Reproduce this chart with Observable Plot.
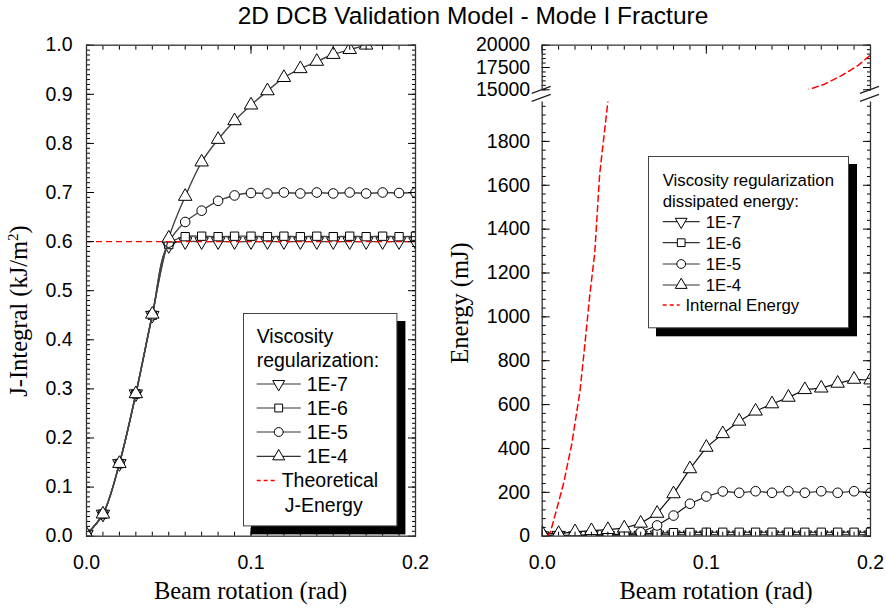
<!DOCTYPE html>
<html><head><meta charset="utf-8">
<script src="https://cdn.jsdelivr.net/npm/d3@7"></script>
<script src="https://cdn.jsdelivr.net/npm/@observablehq/plot@0.6"></script>
<style>
html,body{margin:0;padding:0;background:#fff;}
#root{position:relative;width:886px;height:612px;overflow:hidden;font-family:"Liberation Sans",Arial,sans-serif;}
#root svg{position:absolute;top:0;overflow:visible;}
</style></head>
<body><div id="root"></div>
<script>
// ---------------- data ----------------
const chartTitle = "2D DCB Validation Model - Mode I Fracture";
const xTitle = "Beam rotation (rad)";
const rotation = [0, 0.01, 0.02, 0.03, 0.04, 0.05, 0.06, 0.07, 0.08, 0.09, 0.10, 0.11, 0.12, 0.13, 0.14, 0.15, 0.16, 0.17, 0.18, 0.19, 0.20];
const viscosityLabels = ["1E-7", "1E-6", "1E-5", "1E-4"];

// Left panel: J-Integral (kJ/m^2)
const jIntegral1E7 = [0.004, 0.045, 0.148, 0.290, 0.450, 0.592, 0.600, 0.600, 0.600, 0.600, 0.600, 0.600, 0.600, 0.600, 0.600, 0.600, 0.600, 0.600, 0.600, 0.600, 0.600];
const jIntegral1E6 = [0.004, 0.045, 0.148, 0.290, 0.450, 0.594, 0.610, 0.611, 0.610, 0.611, 0.611, 0.610, 0.611, 0.610, 0.611, 0.610, 0.611, 0.610, 0.611, 0.610, 0.611];
const jIntegral1E5 = [0.004, 0.045, 0.148, 0.290, 0.450, 0.598, 0.640, 0.663, 0.683, 0.694, 0.699, 0.698, 0.700, 0.698, 0.700, 0.698, 0.700, 0.698, 0.700, 0.699, 0.700];
const jIntegral1E4 = [0.004, 0.045, 0.148, 0.290, 0.452, 0.607, 0.692, 0.762, 0.808, 0.846, 0.878, 0.907, 0.934, 0.952, 0.967, 0.981, 0.991, 1.000, 1.008];
const theoreticalJ = [0.6];
const jTickLabels = [0, 0.1, 0.2, 0.3, 0.4, 0.5, 0.6, 0.7, 0.8, 0.9, 1.0];
const xTickLabels = [0, 0.1, 0.2];

// Right panel: dissipated energy (mJ)
const energy1E7 = [2, 4, 2, 3, 3, 4, 5, 6, 6, 6, 6, 6, 6, 6, 6, 6, 6, 6, 6, 6, 6];
const energy1E6 = [4, 3, 4, 5, 6, 8, 11, 14, 16, 17, 18, 18, 18, 18, 18, 18, 18, 18, 18, 18, 18];
const energy1E5 = [6, 3, 4, 5, 7, 10, 18, 49, 94, 148, 181, 204, 198, 205, 198, 205, 198, 205, 198, 205, 198];
const energy1E4 = [13, 12, 20, 25, 30, 37, 59, 104, 193, 307, 405, 467, 524, 570, 603, 633, 668, 675, 697, 715, 712];
const internalRotation = [0.003, 0.005, 0.008, 0.013, 0.018, 0.023, 0.026, 0.029, 0.032, 0.035, 0.040, 0.045, 0.160, 0.162, 0.172, 0.182, 0.192, 0.200];
const internalEnergy   = [0, 18, 100, 240, 420, 660, 875, 1100, 1290, 1650, 1980, 2500, 14750, 15000, 15630, 16560, 17670, 18890];
const energyLowTicks = [0, 200, 400, 600, 800, 1000, 1200, 1400, 1600, 1800];
const energyHighTicks = [15000, 17500, 20000];

const leftLegendTitle = ["Viscosity", "regularization:"];
const leftLegendRef = ["Theoretical", "J-Energy"];
const rightLegendTitle = ["Viscosity regularization", "dissipated energy:"];
const rightLegendRef = "Internal Energy";

// ---------------- helpers ----------------
const S3 = Math.sqrt(3);
const downTriangle = {
  draw(context, size) {
    const y = -Math.sqrt(size / (S3 * 3));
    context.moveTo(0, -y * 2);
    context.lineTo(-S3 * y, y);
    context.lineTo(S3 * y, y);
    context.closePath();
  }
};
const symbols = [downTriangle, "square", "circle", "triangle"];
const d3symbols = [downTriangle, d3.symbolSquare, d3.symbolCircle, d3.symbolTriangle];
const radii = [5, 4.7, 4.8, 5];

function toRows(seriesList, xs) {
  return seriesList.flatMap((vals, s) => vals.map((v, i) => ({x: xs[i], y: v, s: viscosityLabels[s]})));
}
const jRows = toRows([jIntegral1E7, jIntegral1E6, jIntegral1E5, jIntegral1E4], rotation);
const eRows = toRows([energy1E7, energy1E6, energy1E5, energy1E4], rotation);
const ieRows = internalRotation.map((x, i) => ({x, y: internalEnergy[i]}));

function seriesMarks(rows, curve, lineColor, lineWidth) {
  return viscosityLabels.flatMap((lab, s) => {
    const d = rows.filter(r => r.s === lab);
    return [
      Plot.line(d, {x: "x", y: "y", stroke: lineColor, strokeWidth: lineWidth, curve, clip: true}),
      Plot.dot(d, {x: "x", y: "y", symbol: symbols[s], r: radii[s], fill: "white", stroke: "black", strokeWidth: 1, clip: true})
    ];
  });
}

const step = (a, b, n) => d3.range(n + 1).map(i => a + (b - a) * i / n);
const blank = () => "";
function tickAxes(axis, anchors, major, minor) {
  const out = [];
  for (const anchor of anchors) {
    out.push(axis({anchor, ticks: minor, tickSize: -4, tickFormat: blank, label: null, strokeWidth: 1}));
    out.push(axis({anchor, ticks: major, tickSize: -8, tickFormat: blank, label: null, strokeWidth: 1}));
  }
  return out;
}

const xMinor = step(0, 0.2, 20);
const fmt1 = d3.format(".1f");
const fmtInt = d3.format("d");
const baseStyle = {fontFamily: "'Liberation Sans', Arial, sans-serif", fontSize: "19.5px", background: "transparent", overflow: "visible", color: "black"};
const W = 443;
const frameColor = "#333";

// ---------------- left panel ----------------
const left = Plot.plot({
  width: W, height: 612, marginTop: 44.7, marginBottom: 76.3, marginLeft: 86, marginRight: 28,
  x: {domain: [0, 0.2]}, y: {domain: [0, 1]},
  style: baseStyle,
  marks: [
    ...seriesMarks(jRows, "catmull-rom", "#444", 1.4),
    Plot.ruleY(theoreticalJ, {stroke: "#ff0000", strokeWidth: 1.4, strokeDasharray: "6,4"}),
    ...tickAxes(Plot.axisX, ["bottom", "top"], xTickLabels, xMinor),
    ...tickAxes(Plot.axisY, ["left", "right"], jTickLabels, step(0, 1, 100)),
    Plot.axisX({anchor: "bottom", ticks: xTickLabels, tickSize: 0, tickPadding: 19, tickFormat: fmt1, label: null}),
    Plot.axisY({anchor: "left", ticks: jTickLabels, tickSize: 0, tickPadding: 14, tickFormat: fmt1, label: null}),
    Plot.frame({stroke: frameColor, strokeWidth: 1.3})
  ]
});
left.style.left = "0px";

// ---------------- right panel (broken axis) ----------------
const rightMargins = {marginLeft: 98.7, marginRight: 16};
const upper = Plot.plot({
  width: W, height: 612, marginTop: 44.7, marginBottom: 612 - 89.3, ...rightMargins,
  x: {domain: [0, 0.2]}, y: {domain: [15000, 20000]},
  style: baseStyle,
  marks: [
    Plot.line(ieRows, {x: "x", y: "y", stroke: "#ff0000", strokeWidth: 1.5, strokeDasharray: "6,4", clip: true}),
    ...tickAxes(Plot.axisX, ["top"], xTickLabels, xMinor),
    ...tickAxes(Plot.axisY, ["left", "right"], energyHighTicks, step(15000, 20000, 10)),
    Plot.axisY({anchor: "left", ticks: energyHighTicks, tickSize: 0, tickPadding: 12, tickFormat: fmtInt, label: null}),
    Plot.ruleX([0, 0.2], {stroke: frameColor, strokeWidth: 1.3}),
    Plot.ruleY([20000], {stroke: frameColor, strokeWidth: 1.3})
  ]
});
upper.style.left = W + "px";

function breakMarks(index, scales, values, dimensions) {
  const g = d3.create("svg:g").attr("stroke", "#222").attr("stroke-width", 1.3).attr("fill", "none");
  const top = dimensions.marginTop;
  for (const xv of [0, 0.2]) {
    const px = scales.x(xv);
    for (const off of [0, -8]) {
      g.append("line").attr("x1", px - 10).attr("y1", top + off).attr("x2", px + 9).attr("y2", top + off - 7);
    }
  }
  return g.node();
}

const lower = Plot.plot({
  width: W, height: 612, marginTop: 101.4, marginBottom: 76.3, ...rightMargins,
  x: {domain: [0, 0.2]}, y: {domain: [0, 1980]},
  style: baseStyle,
  marks: [
    ...seriesMarks(eRows, "linear", "#111", 1.2),
    Plot.line(ieRows, {x: "x", y: "y", stroke: "#ff0000", strokeWidth: 1.5, strokeDasharray: "6,4", clip: true}),
    ...tickAxes(Plot.axisX, ["bottom"], xTickLabels, xMinor),
    ...tickAxes(Plot.axisY, ["left", "right"], energyLowTicks, d3.range(0, 1980, 40)),
    Plot.axisX({anchor: "bottom", ticks: xTickLabels, tickSize: 0, tickPadding: 19, tickFormat: fmt1, label: null}),
    Plot.axisY({anchor: "left", ticks: energyLowTicks, tickSize: 0, tickPadding: 12, tickFormat: fmtInt, label: null}),
    Plot.ruleX([0, 0.2], {stroke: frameColor, strokeWidth: 1.3}),
    Plot.ruleY([0], {stroke: frameColor, strokeWidth: 1.3}),
    breakMarks
  ]
});
lower.style.left = W + "px";

const root = document.getElementById("root");
root.append(left, upper, lower);

// ---------------- legends ----------------
function legend({x, y, w, h, fs, rows, titleLines, refLines, sw0, sw1, mk, lab, dash1, refX, refX2, symSize}) {
  const svg = d3.create("svg").attr("width", w + 12).attr("height", h + 12)
    .style("left", x + "px").style("top", y + "px")
    .attr("font-family", "'Liberation Sans', Arial, sans-serif").attr("font-size", fs);
  svg.append("rect").attr("x", 8).attr("y", 8).attr("width", w).attr("height", h).attr("fill", "black");
  svg.append("rect").attr("x", 0.5).attr("y", 0.5).attr("width", w - 1).attr("height", h - 1).attr("fill", "white").attr("stroke", "#444").attr("stroke-width", 1);
  const base = c => c + 0.36 * fs;
  titleLines.forEach((t, i) => svg.append("text").attr("x", sw0).attr("y", base(rows[i])).text(t));
  viscosityLabels.forEach((lbl, s) => {
    const cy = rows[titleLines.length + s];
    svg.append("line").attr("x1", sw0).attr("x2", sw1).attr("y1", cy).attr("y2", cy).attr("stroke", "#333").attr("stroke-width", 1.2);
    svg.append("path").attr("transform", `translate(${mk},${cy})`).attr("d", d3.symbol(d3symbols[s], symSize)()).attr("fill", "white").attr("stroke", "black");
    svg.append("text").attr("x", lab).attr("y", base(cy)).text(lbl);
  });
  const ry = rows[titleLines.length + viscosityLabels.length];
  svg.append("line").attr("x1", sw0).attr("x2", dash1).attr("y1", ry).attr("y2", ry).attr("stroke", "#ff0000").attr("stroke-width", 1.5).attr("stroke-dasharray", "4,3");
  refLines.forEach((t, i) => svg.append("text").attr("x", i === 0 ? refX : refX2).attr("y", base(rows[titleLines.length + viscosityLabels.length + i])).text(t));
  root.append(svg.node());
}

legend({x: 243.3, y: 313.3, w: 154.4, h: 213.4, fs: 19.5,
  rows: [22.7, 46.7, 71, 95, 119, 143.4, 167.4, 192.4],
  titleLines: leftLegendTitle, refLines: leftLegendRef,
  sw0: 13.7, sw1: 57.7, mk: 35.7, lab: 63.7, dash1: 32.7, refX: 38.7, refX2: 41.7, symSize: 62});

legend({x: 648.3, y: 156, w: 201, h: 172.3, fs: 16.8,
  rows: [24, 44.7, 65.7, 86.7, 108, 129, 149],
  titleLines: rightLegendTitle, refLines: [rightLegendRef],
  sw0: 14.7, sw1: 51.7, mk: 33.2, lab: 57.7, dash1: 31.7, refX: 37.4, refX2: 37.4, symSize: 60});

// ---------------- titles ----------------
const tsvg = d3.create("svg").attr("width", 886).attr("height", 612).style("left", "0px").style("pointer-events", "none");
tsvg.append("text").attr("x", 473).attr("y", 24).attr("text-anchor", "middle")
  .attr("font-family", "'Liberation Sans', Arial, sans-serif").attr("font-size", 24.5).text(chartTitle);
const serif = "'Liberation Serif', 'Times New Roman', serif";
for (const cx of [250.5, 716]) {
  tsvg.append("text").attr("x", cx).attr("y", 599).attr("text-anchor", "middle")
    .attr("font-family", serif).attr("font-size", 24.5).text(xTitle);
}
const jt = tsvg.append("text").attr("transform", "translate(27,311) rotate(-90)").attr("text-anchor", "middle")
  .attr("font-family", serif).attr("font-size", 24.5);
jt.append("tspan").text("J-Integral (kJ/m");
jt.append("tspan").attr("dy", -9).attr("font-size", 15).text("2");
jt.append("tspan").attr("dy", 9).text(")");
tsvg.append("text").attr("transform", "translate(468,303) rotate(-90)").attr("text-anchor", "middle")
  .attr("font-family", serif).attr("font-size", 24.5).text("Energy (mJ)");
root.append(tsvg.node());
</script>
</body></html>
